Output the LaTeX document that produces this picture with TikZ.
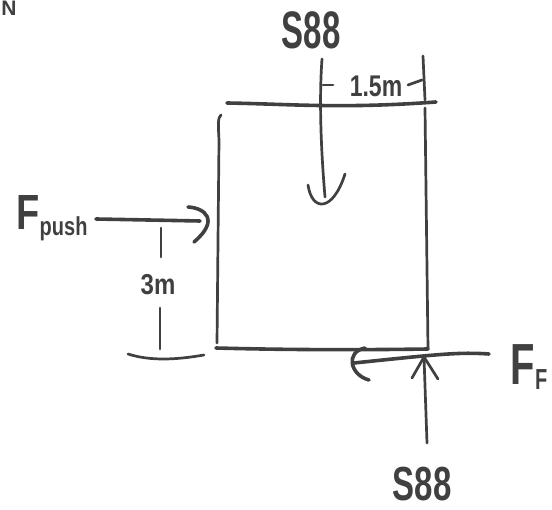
\documentclass[tikz,border=0pt]{standalone}
\usepackage{fontspec}
\usepackage{graphicx}
\setmainfont{Liberation Sans}
\usetikzlibrary{positioning}
\definecolor{pen}{gray}{0.25}
\tikzset{
  pen/.style={draw=pen,line width=3.6pt,line cap=round,line join=round},
  thinpen/.style={draw=pen,line width=2.7pt,line cap=round,line join=round},
  label/.style={text=pen,inner sep=0pt,font=\bfseries},
}
\newcommand{\hand}[3]{{\fontsize{#1}{#1}\selectfont\scalebox{1}[#2]{#3}}}

\begin{document}
\begin{tikzpicture}[x=1pt,y=-1pt]
  \useasboundingbox (0,0) rectangle (552,510);

  % box
  \coordinate (topl) at (227,103);
  \coordinate (topr) at (436,102);
  \coordinate (leftt) at (221,115);
  \coordinate (leftb) at (217,343);
  \coordinate (rightt) at (425,108);
  \coordinate (rightb) at (428,349);
  \coordinate (botl) at (216,348);

  \draw[pen] (topl) .. controls (290,104) and (340,109) .. (topr);
  \draw[thinpen] (leftt) .. controls (218,118) and (218,122) .. (219,140) -- (leftb);
  \draw[thinpen] (rightt) -- (rightb);
  \draw[pen] (botl) .. controls (290,350) and (360,350) .. (rightb);

  % push force
  \node[label] (push) at (52,218) {\hand{38}{1.3}{F\raisebox{-5pt}{\fontsize{20}{20}\selectfont push}}};
  \coordinate (pushs) at (96,219);
  \coordinate (pushe) at (200,221);
  \coordinate (pushh1) at (188,207);
  \coordinate (pushh2) at (194,242);
  \draw[pen] (pushs) -- (pushe);
  \draw[pen] (pushh1) .. controls (205,208) and (220,220) .. (pushh2);

  % 3m
  \node[label] (h) at (158,285) {\hand{24}{1.2}{3m}};
  \coordinate (ht) at (161,228);
  \coordinate (hu) at (161,257);
  \coordinate (hl) at (160,308);
  \coordinate (hb) at (160,349);
  \coordinate (basel) at (128,354);
  \coordinate (baser) at (204,355);
  \draw[thinpen] (ht) -- (hu);
  \draw[thinpen] (hl) -- (hb);
  \draw[thinpen] (basel) .. controls (150,361) and (175,360) .. (baser);

  % top force
  \node[label] (top) at (311,30) {\hand{33}{1.6}{S88}};
  \coordinate (downs) at (322,59);
  \coordinate (downe) at (325,197);
  \coordinate (downh1) at (308,185);
  \coordinate (downh2) at (345,174);
  \draw[thinpen] (downs) .. controls (319,100) and (321,150) .. (downe);
  \draw[thinpen] (downh1) .. controls (312,212) and (333,212) .. (downh2);

  % 1.5m
  \node[label] (w) at (376,86) {\hand{23}{1.3}{1.5m}};
  \coordinate (extt) at (423,56);
  \coordinate (extb) at (425,100);
  \coordinate (ticks) at (323,85);
  \coordinate (ticke) at (333,85);
  \coordinate (dashs) at (408,85);
  \coordinate (dashe) at (422,80);
  \draw[thinpen] (extt) -- (extb);
  \draw[thinpen] (ticks) -- (ticke);
  \draw[thinpen] (dashs) -- (dashe);

  % friction
  \node[label] (ff) at (529,367) {\hand{40}{1.45}{F\raisebox{-4pt}{\fontsize{20}{20}\selectfont F}}};
  \coordinate (fs) at (489,354);
  \coordinate (fe) at (354,363);
  \coordinate (fh1) at (365,348);
  \coordinate (fh2) at (369,380);
  \draw[pen] (fs) .. controls (460,352) and (440,354) .. (fe);
  \draw[pen] (fh1) .. controls (345,352) and (350,375) .. (fh2);

  % bottom force
  \node[label] (bot) at (422,484) {\hand{33}{1.45}{S88}};
  \coordinate (ups) at (427,443);
  \coordinate (upe) at (424,357);
  \coordinate (uph1) at (412,378);
  \coordinate (uph2) at (438,379);
  \draw[thinpen] (ups) -- (upe);
  \draw[thinpen] (uph1) -- (upe) -- (uph2);

  % corner letter
  \node[label] (corner) at (9,8) {\hand{21}{1}{N}};
\end{tikzpicture}
\end{document}
